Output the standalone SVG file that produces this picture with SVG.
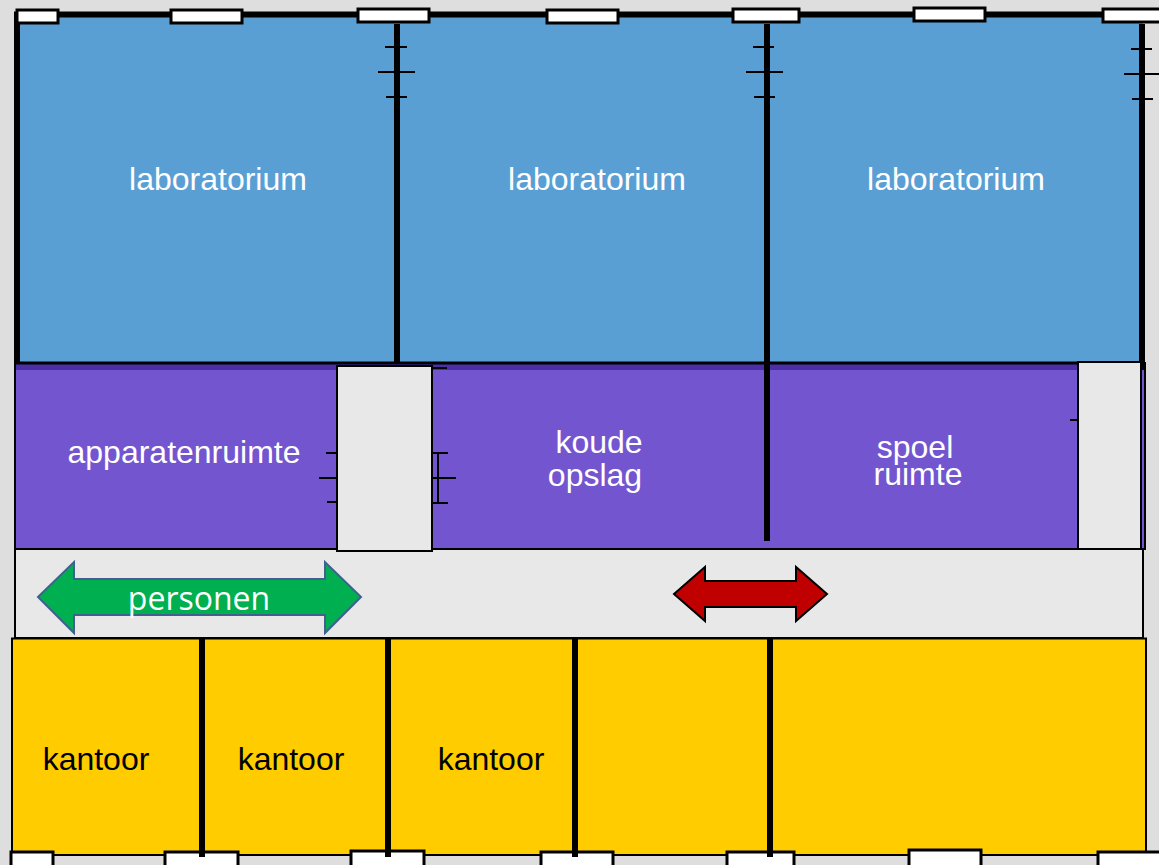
<svg xmlns="http://www.w3.org/2000/svg" width="1159" height="865" viewBox="0 0 1159 865">
<style>
text{font-family:"Liberation Sans",Arial,sans-serif;font-size:32px;text-anchor:middle}
.w{fill:#fff}
.k{fill:#000}
.wall{stroke:#000;stroke-width:6;fill:none}
.tick{stroke:#000;stroke-width:2;fill:none}
.win{fill:#fff;stroke:#000;stroke-width:3}
.room{stroke:#000;stroke-width:2}
.grey{fill:#e8e8e8;stroke:#000;stroke-width:2}
</style>
<rect width="1159" height="865" fill="#dedede"/>
<g id="corridor"><rect class="grey" x="15" y="549" width="1128" height="89"/></g>
<g id="labs">
<rect x="17" y="15" width="1126" height="348" fill="#5a9fd4"/>
</g>
<g id="purple">
<rect x="15" y="363" width="1130" height="186" fill="#7455d0" stroke="#000" stroke-width="2"/>
<rect x="16" y="364" width="1128" height="6" fill="#4b2fa6"/>
<path d="M15 363H1145" stroke="#000" stroke-width="3" fill="none"/>
</g>
<g id="offices">
<rect class="room" x="12" y="638.500" width="1134" height="216.500" fill="#fc0"/>
</g>
<g id="walls">
<path class="wall" d="M14 14.500H1148"/>
<path class="wall" d="M17 14V363"/>
<path class="wall" d="M397 24V363"/>
<path class="wall" d="M767 24V541"/>
<path class="wall" d="M1142 24V370"/>
<path class="wall" d="M202 638V857"/>
<path class="wall" d="M388 638V857"/>
<path class="wall" d="M575 638V857"/>
<path class="wall" d="M770 638V857"/>
</g>
<g id="ticks">
<path class="tick" d="M385 47H407M378 72H415M386 97H407"/>
<path class="tick" d="M753 47H774M746 72H783M754 97H775"/>
<path class="tick" d="M1131 49H1152M1124 74H1159M1132 99H1153"/>
<path class="tick" d="M326 453H337M319 478H337M327 502H337"/>
<path class="tick" d="M432 453H448M432 478H456M432 503H448M438 453V503M432 368H447"/>
<path class="tick" d="M1070 420H1078"/>
</g>
<g id="doors">
<rect class="grey" x="337" y="366" width="95" height="185"/>
<rect class="grey" x="1078" y="362" width="63" height="187"/>
</g>
<g id="windows-top">
<rect class="win" x="17" y="10" width="41" height="13"/>
<rect class="win" x="171" y="10" width="71" height="13"/>
<rect class="win" x="358" y="9" width="71" height="13"/>
<rect class="win" x="547" y="10" width="71" height="13"/>
<rect class="win" x="733" y="9" width="66" height="13"/>
<rect class="win" x="914" y="8" width="71" height="13"/>
<rect class="win" x="1103" y="9" width="70" height="13"/>
</g>
<g id="windows-bottom">
<rect class="win" x="11" y="852" width="42" height="20"/>
<rect class="win" x="165" y="852" width="73" height="20"/>
<rect class="win" x="351" y="851" width="73" height="20"/>
<rect class="win" x="541" y="852" width="72" height="20"/>
<rect class="win" x="727" y="852" width="67" height="20"/>
<rect class="win" x="909" y="850" width="72" height="20"/>
<rect class="win" x="1098" y="852" width="72" height="20"/>
</g>
<g id="wall-ends">
<path class="wall" d="M202 850V857M388 850V857M575 850V857M770 850V857"/>
</g>
<g id="arrow-personen">
<polygon points="38,597 74,562 74,579 325,579 325,562 361,597 325,633 325,615 74,615 74,633" fill="#00b050" stroke="#41608f" stroke-width="2"/>
<text class="w" x="199" y="610" style="font-family:'Open Sans',sans-serif;font-size:32px">personen</text>
</g>
<g id="arrow-red">
<polygon points="674,594 705,567 705,581 796,581 796,567 827,594 796,621 796,607 705,607 705,621" fill="#c00000" stroke="#000" stroke-width="2"/>
</g>
<g id="labels">
<text class="w" x="218" y="190">laboratorium</text>
<text class="w" x="597" y="190">laboratorium</text>
<text class="w" x="956" y="190">laboratorium</text>
<text class="w" x="184" y="463">apparatenruimte</text>
<text class="w" x="599" y="453">koude</text>
<text class="w" x="595" y="486">opslag</text>
<text class="w" x="915" y="458">spoel</text>
<text class="w" x="918" y="485">ruimte</text>
<text class="k" x="96" y="770">kantoor</text>
<text class="k" x="291" y="770">kantoor</text>
<text class="k" x="491" y="770">kantoor</text>
</g>
</svg>
